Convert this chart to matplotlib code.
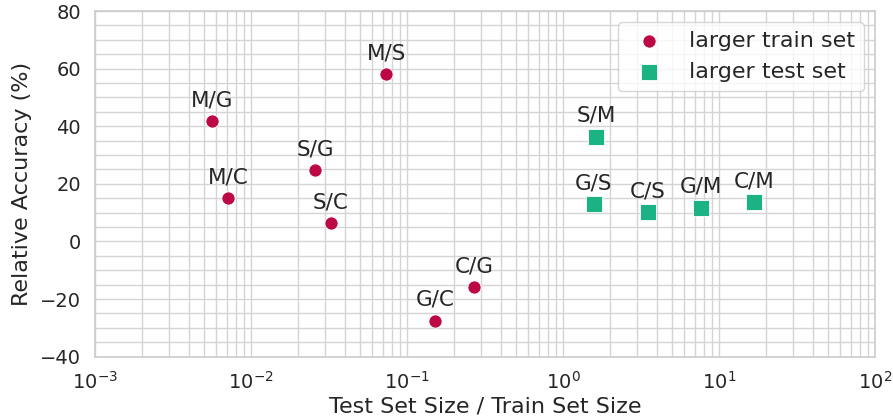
import matplotlib
matplotlib.use('Agg')
import matplotlib.pyplot as plt
from matplotlib.ticker import MultipleLocator, LogLocator
import seaborn as sns

# pairs where the train set is larger
train_labels = ['M/G', 'M/C', 'S/G', 'S/C', 'M/S', 'G/C', 'C/G']
train_ratio = [0.00562, 0.0071, 0.0257, 0.0324, 0.0736, 0.152, 0.268]
train_acc = [41.7, 15.1, 24.8, 6.3, 58.1, -27.5, -15.9]

# pairs where the test set is larger
test_labels = ['S/M', 'G/S', 'C/S', 'G/M', 'C/M']
test_ratio = [1.63, 1.58, 3.49, 7.64, 16.8]
test_acc = [36.4, 13.0, 10.2, 11.7, 13.7]

red = '#bc0845'
green = '#1bb383'

sns.set_style('whitegrid')

fig = plt.figure(figsize=(8.93, 4.19), dpi=100)
ax = fig.add_axes([0.1064, 0.1487, 0.8734, 0.825])

ax.scatter(train_ratio, train_acc, s=90, marker='o', color=red,
           edgecolor='white', linewidth=0.6, label='larger train set', zorder=3)
ax.scatter(test_ratio, test_acc, s=120, marker='s', color=green,
           edgecolor='white', linewidth=0.6, label='larger test set', zorder=3)

for lab, x, y in zip(train_labels + test_labels, train_ratio + test_ratio, train_acc + test_acc):
    ax.annotate(lab, (x, y), xytext=(0, 15), textcoords='offset points',
                ha='center', va='center', fontsize=15.5, color='.15')

ax.set_xscale('log')
ax.set_xlim(1e-3, 1e2)
ax.set_ylim(-40, 80)
ax.xaxis.set_major_locator(LogLocator(base=10, numticks=10))
ax.xaxis.set_minor_locator(LogLocator(base=10, subs=range(2, 10), numticks=20))
ax.yaxis.set_major_locator(MultipleLocator(20))
ax.yaxis.set_minor_locator(MultipleLocator(5))
ax.grid(which='both', color='.83', linewidth=1)
ax.tick_params(which='both', length=0, labelsize=14, pad=10, labelcolor='.15')
for sp in ax.spines.values():
    sp.set_color('.8')
    sp.set_linewidth(1.2)

ax.set_xlabel('Test Set Size / Train Set Size', fontsize=16, color='.15', labelpad=3)
ax.set_ylabel('Relative Accuracy (%)', fontsize=16, color='.15', labelpad=6)

ax.legend(loc='upper right', fontsize=16, frameon=True, borderpad=0.4)

fig.savefig('out.png', dpi=100)
